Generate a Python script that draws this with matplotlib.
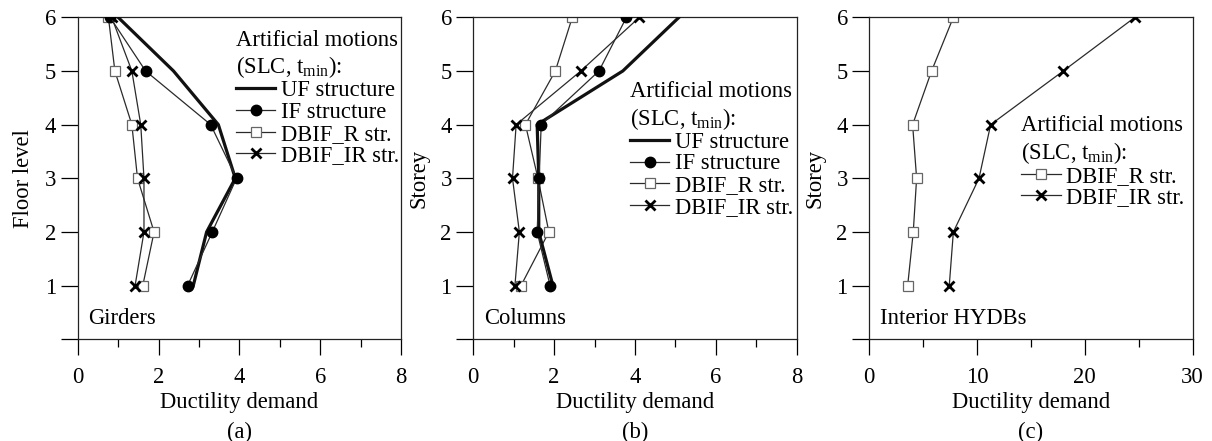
import matplotlib
matplotlib.use("Agg")
import matplotlib.pyplot as plt
from matplotlib.ticker import MultipleLocator

plt.rcParams['font.family'] = ['Liberation Serif', 'DejaVu Serif']
plt.rcParams['mathtext.fontset'] = 'custom'
plt.rcParams['mathtext.rm'] = 'Liberation Serif'
plt.rcParams['mathtext.it'] = 'Liberation Serif:italic'

FS = 16.3

storeys = [1, 2, 3, 4, 5, 6]

# (a) Girders
girders_UF = [2.86, 3.19, 3.90, 3.48, 2.37, 1.00]
girders_IF = [2.72, 3.33, 3.93, 3.29, 1.68, 0.80]
girders_R = [1.61, 1.89, 1.48, 1.34, 0.92, 0.76]
girders_IR = [1.42, 1.64, 1.64, 1.56, 1.34, 0.84]

# (b) Columns
columns_UF = [1.97, 1.62, 1.62, 1.58, 3.70, 5.09]
columns_IF = [1.90, 1.58, 1.63, 1.68, 3.11, 3.79]
columns_R = [1.18, 1.87, 1.60, 1.29, 2.03, 2.45]
columns_IR = [1.03, 1.14, 0.97, 1.06, 2.66, 4.11]

# (c) Interior HYDBs
hydb_R = [3.56, 4.08, 4.39, 4.02, 5.78, 7.80]
hydb_IR = [7.42, 7.80, 10.18, 11.26, 18.00, 24.65]

labels = ['UF structure', 'IF structure', 'DBIF_R str.', 'DBIF_IR str.']
legend_title = 'Artificial motions\n(SLC, t$_{\\mathregular{min}}$):'

fig = plt.figure(figsize=(12.12, 4.41), dpi=100)
W, H = 1212, 441
axw, axh = 323.3 / W, 322.0 / H
bottom = 1 - 339.3 / H
lefts = [77.7 / W, 473.3 / W, 869.3 / W]
axes = [fig.add_axes([l, bottom, axw, axh]) for l in lefts]

line_col = '#2a2a2a'
sq_col = '#666666'


def style_axes(ax, xmax, xmajor, xminor, ylabel, note, tag):
    ax.set_xlim(0, xmax)
    ax.set_ylim(0, 6)
    ax.xaxis.set_major_locator(MultipleLocator(xmajor))
    ax.xaxis.set_minor_locator(MultipleLocator(xminor))
    ax.set_yticks([0, 1, 2, 3, 4, 5, 6])
    ax.set_yticklabels(['', '1', '2', '3', '4', '5', '6'])
    ax.tick_params(axis='x', which='major', direction='out', length=11.3, width=0.9,
                   labelsize=FS, pad=8.5)
    ax.tick_params(axis='x', which='minor', direction='out', length=5.8, width=0.9)
    ax.tick_params(axis='y', which='major', direction='out', length=12, width=0.9,
                   labelsize=FS, pad=3.5)
    ax.tick_params(top=False, right=False)
    for s in ax.spines.values():
        s.set_linewidth(0.9)
        s.set_color('#222222')
    ax.set_ylabel(ylabel, fontsize=FS, labelpad=7.5)
    ax.text(0.5, -0.197, 'Ductility demand', transform=ax.transAxes,
            ha='center', va='center', fontsize=FS)
    ax.text(0.5, -0.29, tag, transform=ax.transAxes,
            ha='center', va='center', fontsize=FS)
    ax.text(0.032, 0.066, note, transform=ax.transAxes,
            ha='left', va='center', fontsize=FS)


def plot_four(ax, uf, iff, r, ir):
    ax.plot(uf, storeys, '-', color='#111111', lw=2.3, label=labels[0], zorder=3)
    ax.plot(iff, storeys, '-o', color=line_col, lw=0.9, ms=7.5, mfc='black',
            mec='black', label=labels[1], zorder=4)
    ax.plot(r, storeys, '-s', color=line_col, lw=0.9, ms=7, mfc='white',
            mec=sq_col, mew=0.9, label=labels[2], zorder=2)
    ax.plot(ir, storeys, '-x', color=line_col, lw=0.9, ms=7, mec='black',
            mew=2.0, label=labels[3], zorder=5)


def add_legend(ax, anchor):
    leg = ax.legend(title=legend_title, loc='upper right', bbox_to_anchor=anchor,
                    frameon=False, fontsize=FS, title_fontsize=FS,
                    handlelength=1.75, handletextpad=0.25, labelspacing=0.03,
                    borderaxespad=0, borderpad=0, alignment='left')
    leg._legend_box.sep = 0
    return leg


ax = axes[0]
plot_four(ax, girders_UF, girders_IF, girders_R, girders_IR)
style_axes(ax, 8, 2, 1, 'Floor level', 'Girders', '(a)')
add_legend(ax, (0.995, 0.962))

ax = axes[1]
plot_four(ax, columns_UF, columns_IF, columns_R, columns_IR)
style_axes(ax, 8, 2, 1, 'Storey', 'Columns', '(b)')
add_legend(ax, (0.99, 0.802))

ax = axes[2]
ax.plot(hydb_R, storeys, '-s', color=line_col, lw=0.9, ms=7, mfc='white',
        mec=sq_col, mew=0.9, label=labels[2], zorder=2)
ax.plot(hydb_IR, storeys, '-x', color=line_col, lw=0.9, ms=7, mec='black',
        mew=2.0, label=labels[3], zorder=5)
style_axes(ax, 30, 10, 5, 'Storey', 'Interior HYDBs', '(c)')
add_legend(ax, (0.975, 0.697))

fig.savefig('out.png', dpi=100)
